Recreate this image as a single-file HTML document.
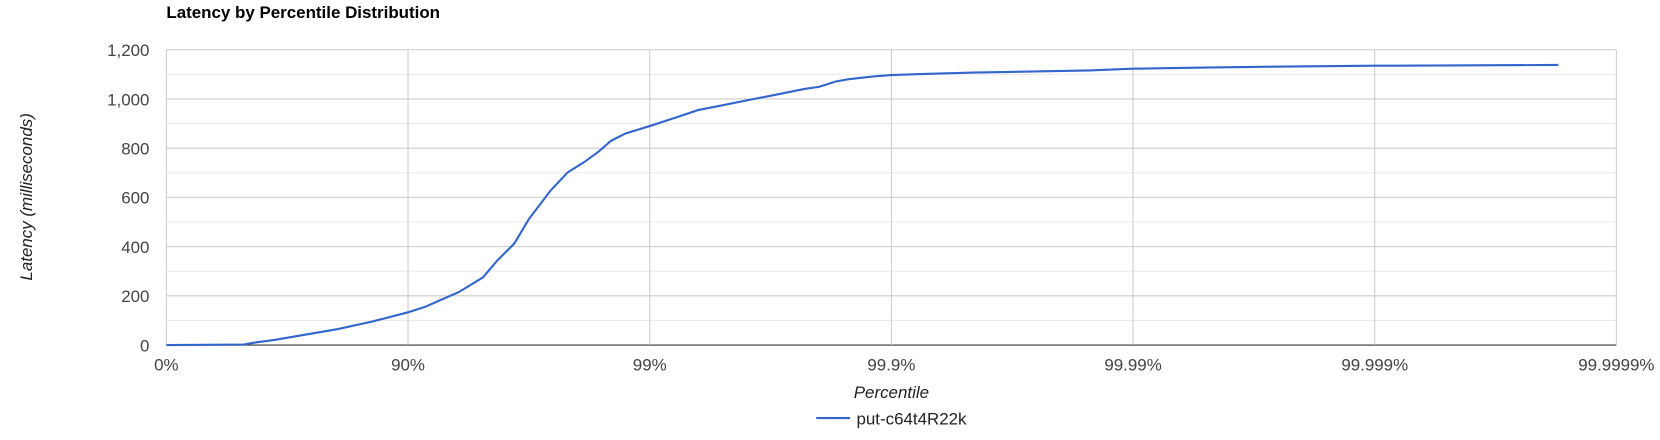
<!DOCTYPE html>
<html><head><meta charset="utf-8"><style>
body{margin:0;background:#fff;font-family:"Liberation Sans",Arial,sans-serif;overflow:hidden;}
svg text{font-family:"Liberation Sans",Arial,sans-serif;}
</style></head><body>
<svg id="chart" width="1660" height="435" viewBox="0 0 1568 411" xmlns="http://www.w3.org/2000/svg">
<text x="157" y="17" font-size="16" font-weight="bold" fill="#000">Latency by Percentile Distribution</text>
<g id="grid"></g><g id="axes"></g><g id="series"></g>
<text x="842" y="376" font-size="16" font-style="italic" text-anchor="middle" fill="#222">Percentile</text>
<text transform="translate(30,186) rotate(-90)" font-size="16" font-style="italic" text-anchor="middle" fill="#222">Latency (milliseconds)</text>
<g>
<line x1="771" y1="395" x2="803" y2="395" stroke="#3366cc" stroke-width="2"/>
<text x="809" y="401" font-size="16" fill="#222">put-c64t4R22k</text>
</g>
</svg>
<script>
const xTickLabels=["0%","90%","99%","99.9%","99.99%","99.999%","99.9999%"];
const yTicks=[0,200,400,600,800,1000,1200];
const nines=[0,0.32,0.36,0.45,0.58,0.71,0.85,1.0,1.07,1.13,1.21,1.31,1.37,1.44,1.50,1.59,1.66,1.73,1.79,1.84,1.90,2.0,2.11,2.2,2.29,2.42,2.53,2.64,2.70,2.77,2.82,2.93,3.0,3.12,3.34,3.82,4.0,4.26,4.57,5.0,5.76];
const latency=[0,2,9,21,43,65,95,133,155,181,215,275,344,413,512,628,701,744,787,830,860,890,925,955,972,998,1019,1041,1049,1071,1080,1092,1097,1101,1107,1116,1123,1127,1131,1135,1138];
const NS="http://www.w3.org/2000/svg";
const X0=157,X1=1527,Y0=326,Y1=47;
const xs=n=>X0+n*(X1-X0)/6;
const ys=v=>Y0-v*(Y0-Y1)/1200;
function mk(t,a,p){const e=document.createElementNS(NS,t);for(const k in a)e.setAttribute(k,a[k]);p.appendChild(e);return e;}
const grid=document.getElementById('grid'),axes=document.getElementById('axes'),ser=document.getElementById('series');
for(let v=100;v<=1100;v+=200){const l=mk('line',{x1:X0,x2:X1,y1:ys(v),y2:ys(v),stroke:'#ebebeb'},grid);

}
yTicks.forEach(v=>{const l=mk('line',{x1:X0,x2:X1,y1:ys(v),y2:ys(v),stroke:v===0?'#333':'#ccc'},grid);


const t=mk('text',{x:141,y:ys(v)+6,'font-size':16,'text-anchor':'end',fill:'#444'},axes);t.textContent=v.toLocaleString('en-US');

});
xTickLabels.forEach((s,i)=>{if(i>0){const l=mk('line',{x1:xs(i),x2:xs(i),y1:Y1,y2:Y0,stroke:'#ccc'},grid);

}
const t=mk('text',{x:xs(i),y:350,'font-size':16,'text-anchor':'middle',fill:'#444'},axes);t.textContent=s;

});
const vl=mk('line',{x1:X0,x2:X0,y1:Y1,y2:Y0,stroke:'#ccc'},grid);


const pts=nines.map((n,i)=>xs(n).toFixed(1)+','+ys(latency[i]).toFixed(1)).join(' ');
const pl=mk('polyline',{points:pts,fill:'none',stroke:'#3366cc','stroke-width':2},ser);


</script>
</body></html>
